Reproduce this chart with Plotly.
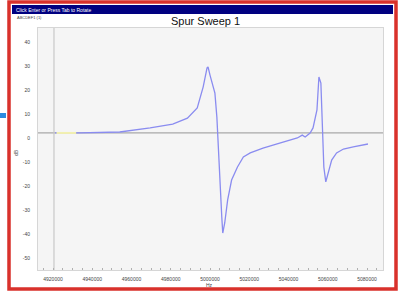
import plotly.graph_objects as go

# ---- data ----
freq_hz = [4921000, 4933500, 4954000, 4969500, 4981000, 4988500, 4993500, 4996500,
           4998500, 4999000, 5000000, 5001500, 5002500, 5003500, 5004000, 5005000,
           5006000, 5006500, 5007500, 5009000, 5011000, 5014000, 5017000, 5020500,
           5027000, 5035500, 5044500, 5047000, 5048500, 5051000, 5052500, 5054500,
           5055500, 5056500, 5057500, 5058000, 5059000, 5060000, 5062000, 5064500,
           5068000, 5073000, 5080500]
level_db = [2.1, 2.1, 2.5, 4.2, 5.8, 8.3, 12.5, 21.2,
            29.2, 29.6, 26.2, 21.2, 18.7, 8.7, -0.8, -18.7,
            -32.9, -39.6, -35.4, -25.8, -17.5, -12.1, -7.9, -6.2,
            -4.2, -2.1, 0.0, 1.2, 0.4, 2.1, 4.2, 11.7,
            25.4, 22.9, 3.3, -12.1, -18.3, -15.4, -9.2, -6.2,
            -4.6, -3.7, -2.5]
marker_seg_hz = [4921800, 4931800]
marker_seg_db = [2.1, 2.1]
threshold_db = 2.1
cursor_hz = 4920500

x_tick_vals = [4920000, 4940000, 4960000, 4980000, 5000000, 5020000, 5040000, 5060000, 5080000]
x_tick_text = [str(v) for v in x_tick_vals]
y_tick_vals = [40, 30, 20, 10, 0, -10, -20, -30, -40, -50]
y_tick_text = [str(v) for v in y_tick_vals]

W, H = 401, 297
L, R, T, B = 38, 383, 28, 270


def px(x):
    return (x - L) / (R - L)


def py(y):
    return (B - y) / (B - T)


fig = go.Figure()
fig.add_trace(go.Scatter(x=freq_hz, y=level_db, mode="lines",
                         line=dict(color="#8a8cf0", width=1.3), hoverinfo="skip"))
fig.add_trace(go.Scatter(x=marker_seg_hz, y=marker_seg_db, mode="lines",
                         line=dict(color="#f2f0b0", width=2), hoverinfo="skip"))

font = "Liberation Sans, Arial, sans-serif"
shapes = [
    dict(type="line", xref="paper", yref="y", x0=0, x1=1, y0=threshold_db, y1=threshold_db,
         line=dict(color="#a8a8a8", width=1.2), layer="below"),
    dict(type="line", xref="x", yref="paper", x0=cursor_hz, x1=cursor_hz, y0=0, y1=1,
         line=dict(color="#c8c8c8", width=1.2), layer="below"),
    dict(type="rect", xref="paper", yref="paper", x0=px(9), x1=px(396), y0=py(289), y1=py(2),
         line=dict(color="#d9312b", width=3.5)),
    dict(type="rect", xref="paper", yref="paper", x0=px(12), x1=px(393), y0=py(14), y1=py(5),
         fillcolor="#000080", line=dict(width=0)),
    dict(type="rect", xref="paper", yref="paper", x0=px(0), x1=px(6), y0=py(118), y1=py(113),
         fillcolor="#2a8be0", line=dict(width=0)),
]

annotations = [
    dict(text="Click Enter or Press Tab to Rotate", xref="paper", yref="paper",
         x=px(14), y=py(9.5), xanchor="left", yanchor="middle", showarrow=False,
         font=dict(family=font, size=5, color="white")),
    dict(text="ABCDEF1 (1)", xref="paper", yref="paper",
         x=px(15), y=py(18), xanchor="left", yanchor="middle", showarrow=False,
         font=dict(family=font, size=4, color="#444")),
    dict(text="Spur Sweep 1", xref="paper", yref="paper",
         x=px(205), y=py(21), xanchor="center", yanchor="middle", showarrow=False,
         font=dict(family=font, size=11, color="#111")),
    dict(text="dB", xref="paper", yref="paper", textangle=-90,
         x=px(16), y=py(153), xanchor="center", yanchor="middle", showarrow=False,
         font=dict(family=font, size=5, color="#444")),
    dict(text="Hz", xref="paper", yref="paper",
         x=px(209), y=py(285), xanchor="center", yanchor="middle", showarrow=False,
         font=dict(family=font, size=5, color="#444")),
]

x0 = 4920000 - (53 - L) / 39.25 * 20000
x1 = 4920000 + (R - 53) / 39.25 * 20000
y_top = 40 + (42 - T) * 10 / 24
y_bot = 40 - (B - 42) * 10 / 24

fig.update_layout(
    width=W, height=H,
    margin=dict(l=L, r=W - R, t=T, b=H - B, autoexpand=False),
    paper_bgcolor="white", plot_bgcolor="#f5f5f5",
    showlegend=False,
    shapes=shapes, annotations=annotations,
    xaxis=dict(range=[x0, x1], tickvals=x_tick_vals, ticktext=x_tick_text,
               automargin=False,
               showgrid=False, zeroline=False, showline=True, mirror=True,
               linecolor="#d6d6d6", linewidth=1, ticks="", ticklabelstandoff=4,
               tickfont=dict(family=font, size=5, color="#444"),
               minor=dict(ticks="inside", ticklen=2, tickcolor="#b0b0b0", dtick=5000)),
    yaxis=dict(range=[y_bot, y_top], tickvals=y_tick_vals, ticktext=y_tick_text,
               automargin=False,
               showgrid=False, zeroline=False, showline=True, mirror=True,
               linecolor="#d6d6d6", linewidth=1, ticks="", ticklabelstandoff=6,
               tickfont=dict(family=font, size=5, color="#444")),
)

fig.write_html("out.html",
               config={"displayModeBar": False, "staticPlot": True},
               post_script="document.body.style.margin='0';document.body.style.overflow='hidden';")
